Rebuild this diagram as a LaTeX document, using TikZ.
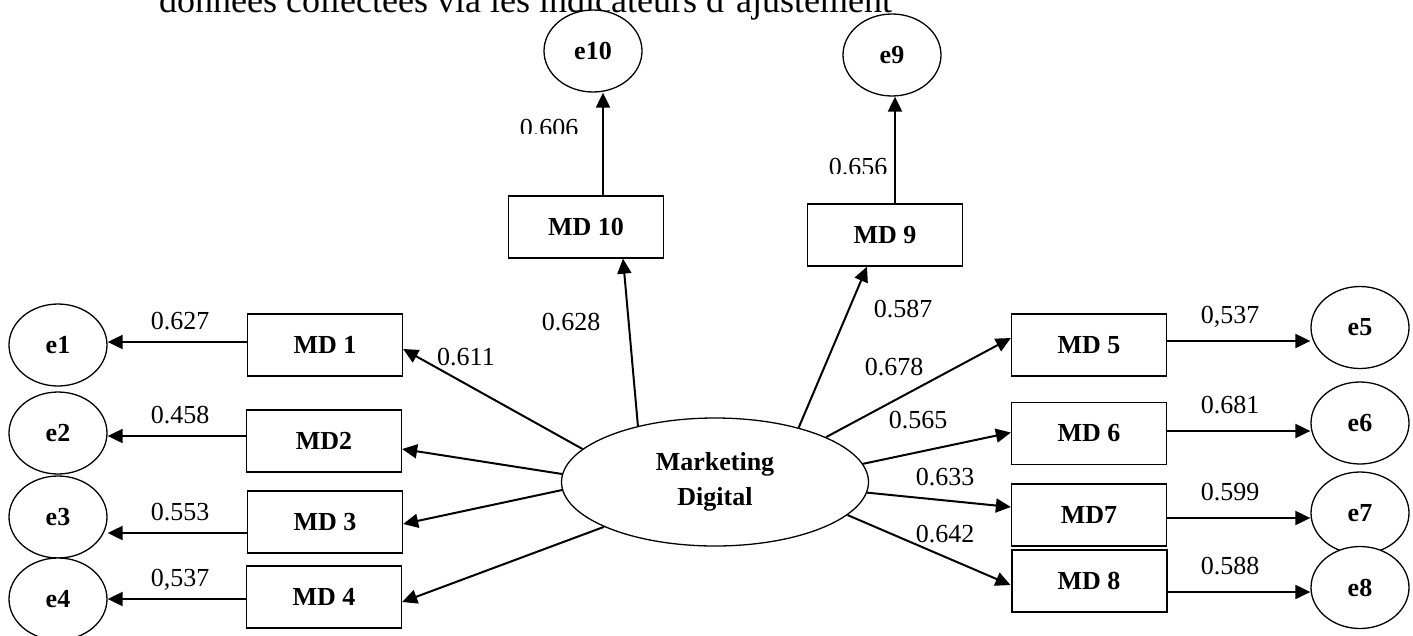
\documentclass[tikz,border=0pt]{standalone}
\usepackage{fontspec}
\setmainfont{Liberation Serif}
\usetikzlibrary{arrows.meta,shapes.geometric,calc}

\begin{document}
\begin{tikzpicture}[x=1pt,y=-1pt,
  lbl/.style={font=\fontsize{26}{30}\selectfont, inner sep=0pt, anchor=base},
  obs/.style={draw, fill=white, line width=1.3pt, minimum width=155pt, minimum height=62pt,
              inner sep=0pt, font=\fontsize{26}{30}\selectfont\bfseries},
  err/.style={draw, fill=white, ellipse, line width=1.3pt, minimum width=98pt, minimum height=82pt,
              inner sep=0pt, font=\fontsize{26}{30}\selectfont\bfseries},
  lat/.style={draw, fill=white, ellipse, line width=1.3pt, minimum width=307pt, minimum height=128pt,
              inner sep=0pt, align=center, font=\fontsize{26}{35}\selectfont\bfseries},
  arr/.style={line width=2pt, -{Triangle[length=15pt,width=14pt]}}]

\clip (0,0) rectangle (1413,635);
\fill[white] (0,0) rectangle (1413,635);

% heading line, cut off at the top edge
\node[font=\fontsize{36}{40}\selectfont, anchor=base west, inner sep=0pt] (title) at (159,12)
  {données collectées via les indicateurs d'ajustement};

% latent construct
\node[lat] (mkt) at (715,482) {Marketing\\Digital};

% indicators
\node[obs] (md1)  at (325,345)   {MD 1};
\node[obs] (md2)  at (324,441)   {MD2};
\node[obs] (md3)  at (325,522)   {MD 3};
\node[obs] (md4)  at (324,597)   {MD 4};
\node[obs] (md5)  at (1089,345)  {MD 5};
\node[obs] (md6)  at (1089,433.5){MD 6};
\node[obs] (md7)  at (1089,515)  {MD7};
\node[obs, line width=2pt] (md8) at (1089,581) {MD 8};
\node[obs] (md9)  at (885,235)   {MD 9};
\node[obs] (md10) at (586,227)   {MD 10};

% error terms
\node[err] (e1)  at (58,345)     {e1};
\node[err] (e2)  at (58,433)     {e2};
\node[err] (e3)  at (58,517)     {e3};
\node[err] (e4)  at (58,599)     {e4};
\node[err] (e5)  at (1360,327.5) {e5};
\node[err] (e6)  at (1360,423)   {e6};
\node[err] (e7)  at (1360,513)   {e7};
\node[err] (e8)  at (1360,587.5) {e8};
\node[err] (e9)  at (892,55)     {e9};
\node[err] (e10) at (593,51)     {e10};

% loadings from the construct
\draw[arr] (mkt.166) -- ($(md1.east)+(0,4)$);
\draw[arr] (mkt.177) -- ($(md2.east)+(0,8)$);
\draw[arr] (mkt.183) -- ($(md3.east)+(0,2)$);
\draw[arr] (mkt.202) -- ($(md4.east)+(0,5)$);
\draw[arr] (mkt.144) -- ($(md10.south)+(37,0)$);
\draw[arr] (mkt.33)  -- ($(md9.south)+(-18,0)$);
\draw[arr] (mkt.22)  -- ($(md5.west)+(0,-7)$);
\draw[arr] (mkt.7)   -- ($(md6.west)+(0,-1)$);
\draw[arr] (mkt.-4)  -- ($(md7.west)+(0,-8)$);
\draw[arr] (mkt.-14) -- ($(md8.west)+(0,4)$);

% indicator to error arrows
\draw[arr] ($(md1.west)+(0,-3)$)  -- ($(md1.west -| e1.east)+(0,-3)$);
\draw[arr] ($(md2.west)+(0,-5)$)  -- ($(md2.west -| e2.east)+(0,-5)$);
\draw[arr] ($(md3.west)+(0,11)$)  -- ($(md3.west -| e3.east)+(0,11)$);
\draw[arr] ($(md4.west)+(0,2)$)   -- ($(md4.west -| e4.east)+(0,2)$);
\draw[arr] ($(md5.east)+(0,-4)$)  -- ($(md5.east -| e5.west)+(0,-4)$);
\draw[arr] ($(md6.east)+(0,-2.5)$)-- ($(md6.east -| e6.west)+(0,-2.5)$);
\draw[arr] ($(md7.east)+(0,3)$)   -- ($(md7.east -| e7.west)+(0,3)$);
\draw[arr] ($(md8.east)+(0,11)$)  -- ($(md8.east -| e8.west)+(0,11)$);
\draw[arr] ($(md10.north)+(17,0)$) -- ($(md10.north |- e10.south)+(17,0)$);
\draw[arr] ($(md9.north)+(10,0)$)  -- ($(md9.north |- e9.south)+(10,0)$);

% loading values
\node[lbl] at (180,329)  {0.627};
\node[lbl] at (180,423)  {0.458};
\node[lbl] at (180,520)  {0.553};
\node[lbl] at (180,586)  {0,537};
\node[lbl] at (466,365)  {0.611};
\node[lbl] at (571,330)  {0.628};
\node[lbl] at (903,317)  {0.587};
\node[lbl] at (894,375)  {0.678};
\node[lbl] at (918,428)  {0.565};
\node[lbl] at (945,485)  {0.633};
\node[lbl] at (945,542)  {0.642};
\node[lbl] at (1230,323) {0,537};
\node[lbl] at (1230,413) {0.681};
\node[lbl] at (1230,500) {0.599};
\node[lbl] at (1230,574) {0.588};
\begin{scope}
  \clip (500,100) rectangle (600,133);
  \node[lbl] at (549,136) {0.606};
\end{scope}
\begin{scope}
  \clip (800,140) rectangle (900,173);
  \node[lbl] at (858,175) {0.656};
\end{scope}
\end{tikzpicture}
\end{document}
